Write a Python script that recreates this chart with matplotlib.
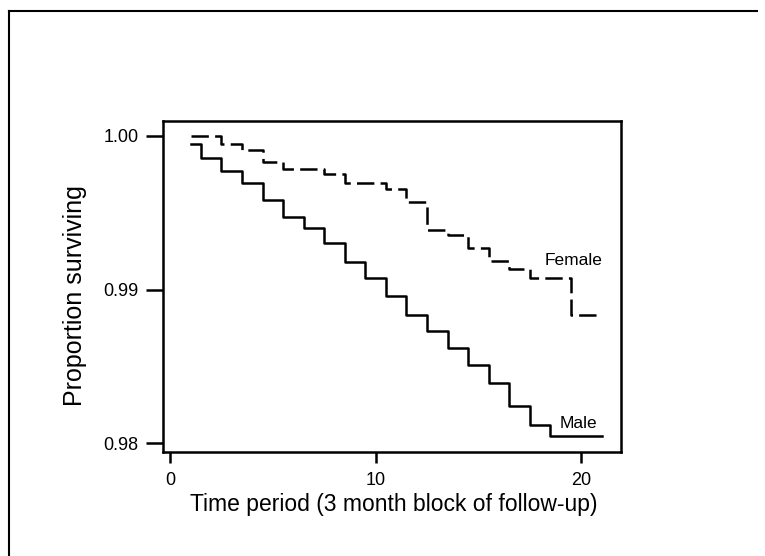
import numpy as np
import matplotlib
matplotlib.use('Agg')
import matplotlib.pyplot as plt
from matplotlib.lines import Line2D

plt.rcParams['font.family'] = ['Liberation Sans', 'DejaVu Sans']
plt.rcParams['lines.scale_dashes'] = False

# Time period (3 month blocks)
period = np.arange(1, 22)

# Proportion surviving
male = [0.99948, 0.99855, 0.99774, 0.99694, 0.99583, 0.99475, 0.99399,
        0.99306, 0.99182, 0.99074, 0.98959, 0.98833, 0.98733, 0.98620,
        0.98510, 0.98390, 0.98243, 0.98119, 0.98048, 0.98048, 0.98048]
female = [1.00000, 1.00000, 0.99948, 0.99909, 0.99833, 0.99785, 0.99785,
          0.99753, 0.99696, 0.99696, 0.99652, 0.99570, 0.99391, 0.99354,
          0.99271, 0.99183, 0.99134, 0.99073, 0.99073, 0.98835, 0.98835]

xticks = [0, 10, 20]
yticks = [0.98, 0.99, 1.00]
ytick_labels = ['0.98', '0.99', '1.00']

fig = plt.figure(figsize=(7.65, 5.56), dpi=100)
ax = fig.add_axes([0.2127, 0.1876, 0.5987, 0.5948])

ax.step(period, male, where='mid', color='black', lw=1.8)
ax.step(period, female, where='mid', color='black', lw=1.8, dashes=(12.5, 4.5))

ax.text(18.98, 0.98126, 'Male', fontsize=12.5, va='center', ha='left')
ax.text(18.25, 0.99188, 'Female', fontsize=12.5, va='center', ha='left')

ax.set_xlim(-0.36, 21.93)
ax.set_ylim(0.97945, 1.000976)
ax.set_xticks(xticks)
ax.set_yticks(yticks)
ax.set_yticklabels(ytick_labels)

for s in ax.spines.values():
    s.set_linewidth(1.8)

ax.tick_params(axis='x', length=8, width=1.8, pad=6.5, labelsize=13)
ax.tick_params(axis='y', length=12.2, width=1.8, pad=5, labelsize=13)

ax.set_xlabel('Time period (3 month block of follow-up)', fontsize=16.5, va='center')
ax.set_ylabel('Proportion surviving', fontsize=18, va='center')
ax.xaxis.set_label_coords(0.504, -0.161)
ax.yaxis.set_label_coords(-0.1915, 0.471)

# frame round the figure (top and left edges)
fig.add_artist(Line2D([9/765, 757/765], [1 - 11/556, 1 - 11/556], color='black', lw=1.5))
fig.add_artist(Line2D([9/765, 9/765], [1 - 11/556, 0], color='black', lw=1.5))

plt.savefig('out.png', dpi=100)
